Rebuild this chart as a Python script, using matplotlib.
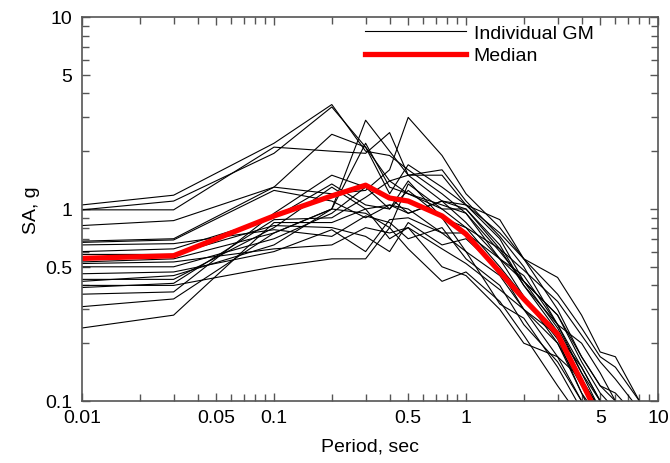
import matplotlib
matplotlib.use("Agg")
import matplotlib.pyplot as plt
from matplotlib.ticker import FixedLocator, FixedFormatter, NullFormatter

plt.rcParams['font.family'] = ['Liberation Sans', 'DejaVu Sans']

# periods (sec)
periods = [0.01, 0.03, 0.1, 0.2, 0.3, 0.4, 0.5, 0.75, 1, 1.5, 2, 3, 4, 5, 6, 8, 10]

# individual ground motion spectra (SA, g)
gm01 = [1.05, 1.18, 2.2, 3.5, 2.0, 1.9, 1.6, 1.2, 0.95, 0.6, 0.42, 0.24, 0.14, 0.09, 0.07, 0.05, 0.04]
gm02 = [0.99, 1.10, 1.95, 3.4, 2.1, 1.4, 1.2, 1.0, 0.8, 0.5, 0.35, 0.2, 0.12, 0.08, 0.06, 0.04, 0.03]
gm03 = [0.99, 0.99, 2.1, 2.0, 1.95, 2.5, 1.5, 1.1, 1.0, 0.62, 0.4, 0.23, 0.13, 0.09, 0.07, 0.05, 0.04]
gm04 = [0.82, 0.87, 1.3, 2.45, 2.1, 1.2, 1.7, 1.3, 1.05, 0.88, 0.55, 0.44, 0.28, 0.18, 0.17, 0.1, 0.07]
gm05 = [0.68, 0.70, 1.3, 1.2, 1.25, 1.6, 3.0, 1.9, 1.2, 0.8, 0.55, 0.3, 0.17, 0.12, 0.11, 0.08, 0.06]
gm06 = [0.67, 0.69, 1.25, 1.1, 0.9, 1.05, 0.95, 1.1, 1.05, 0.7, 0.42, 0.28, 0.16, 0.11, 0.09, 0.06, 0.045]
gm07 = [0.53, 0.55, 0.75, 1.0, 2.9, 2.0, 1.5, 1.6, 1.1, 0.72, 0.5, 0.25, 0.15, 0.1, 0.08, 0.05, 0.04]
gm08 = [0.50, 0.50, 0.7, 0.95, 1.3, 1.0, 1.4, 0.9, 0.6, 0.45, 0.3, 0.2, 0.11, 0.08, 0.06, 0.04, 0.03]
gm09 = [0.43, 0.43, 0.8, 1.3, 1.0, 0.7, 0.8, 0.5, 0.45, 0.3, 0.2, 0.17, 0.1, 0.07, 0.05, 0.04, 0.03]
gm10 = [0.42, 0.45, 0.65, 1.0, 2.2, 1.3, 1.2, 1.05, 0.95, 0.55, 0.45, 0.25, 0.2, 0.14, 0.1, 0.07, 0.05]
gm11 = [0.40, 0.40, 0.5, 0.55, 0.55, 0.8, 0.62, 0.42, 0.47, 0.33, 0.22, 0.12, 0.08, 0.06, 0.05, 0.04, 0.03]
gm12 = [0.36, 0.37, 0.95, 1.5, 1.3, 1.15, 0.95, 1.1, 0.85, 0.55, 0.35, 0.21, 0.11, 0.07, 0.05, 0.04, 0.03]
gm13 = [0.31, 0.34, 0.75, 1.0, 0.95, 0.8, 1.35, 1.0, 1.0, 0.65, 0.4, 0.25, 0.14, 0.1, 0.08, 0.06, 0.04]
gm14 = [0.24, 0.28, 0.85, 0.85, 1.0, 1.05, 1.0, 0.75, 0.6, 0.32, 0.27, 0.15, 0.09, 0.06, 0.05, 0.04, 0.03]
gm15 = [0.58, 0.58, 0.82, 0.8, 0.72, 0.6, 0.85, 0.65, 0.7, 0.48, 0.3, 0.17, 0.13, 0.09, 0.07, 0.05, 0.04]
gm16 = [0.65, 0.66, 0.78, 0.72, 0.92, 0.85, 0.7, 0.8, 0.55, 0.4, 0.25, 0.16, 0.1, 0.075, 0.06, 0.04, 0.03]
gm17 = [0.46, 0.47, 0.6, 0.78, 0.6, 0.88, 0.9, 0.75, 0.75, 0.55, 0.42, 0.28, 0.17, 0.12, 0.1, 0.07, 0.05]
gm18 = [0.39, 0.41, 0.88, 0.9, 1.15, 1.4, 1.5, 1.5, 1.05, 0.75, 0.55, 0.36, 0.24, 0.17, 0.15, 0.1, 0.07]
gm19 = [0.52, 0.53, 0.62, 0.65, 0.8, 0.75, 0.8, 0.62, 0.52, 0.38, 0.3, 0.22, 0.15, 0.1, 0.08, 0.06, 0.04]
gm20 = [0.60, 0.62, 0.90, 1.35, 1.05, 1.0, 1.25, 0.9, 0.8, 0.62, 0.48, 0.33, 0.22, 0.16, 0.13, 0.09, 0.06]

ground_motions = [gm01, gm02, gm03, gm04, gm05, gm06, gm07, gm08, gm09, gm10,
                  gm11, gm12, gm13, gm14, gm15, gm16, gm17, gm18, gm19, gm20]

# median spectrum
median = [0.553, 0.571, 0.92, 1.17, 1.33, 1.14, 1.10, 0.92, 0.74, 0.47, 0.34, 0.223, 0.126, 0.08, 0.06, 0.04, 0.03]

x_ticks = [0.01, 0.05, 0.1, 0.5, 1, 5, 10]
x_tick_labels = ['0.01', '0.05', '0.1', '0.5', '1', '5', '10']
y_ticks = [0.1, 0.5, 1, 5, 10]
y_tick_labels = ['0.1', '0.5', '1', '5', '10']

fig = plt.figure(figsize=(6.7, 4.64), dpi=100)
ax = fig.add_axes([82 / 670, 1 - 402 / 464, 576 / 670, 384 / 464])

for i, gm in enumerate(ground_motions):
    ax.plot(periods, gm, color='black', linewidth=0.8,
            label='Individual GM' if i == 0 else None)
ax.plot(periods, median, color='#ff0000', linewidth=3.8, label='Median')

ax.set_xscale('log')
ax.set_yscale('log')
ax.set_xlim(0.01, 10)
ax.set_ylim(0.1, 10)

# ticks: labelled ones and the rest of the log grid
minor_x = [m * 10.0 ** e for e in range(-2, 1) for m in range(2, 10) if m != 5]
minor_y = [m * 10.0 ** e for e in range(-1, 1) for m in range(2, 10) if m != 5]
ax.xaxis.set_major_locator(FixedLocator(x_ticks))
ax.xaxis.set_major_formatter(FixedFormatter(x_tick_labels))
ax.xaxis.set_minor_locator(FixedLocator(minor_x))
ax.xaxis.set_minor_formatter(NullFormatter())
ax.yaxis.set_major_locator(FixedLocator(y_ticks))
ax.yaxis.set_major_formatter(FixedFormatter(y_tick_labels))
ax.yaxis.set_minor_locator(FixedLocator(minor_y))
ax.yaxis.set_minor_formatter(NullFormatter())

ax.tick_params(which='both', direction='in', top=True, right=True,
               color='#555555', width=1)
ax.tick_params(which='major', length=6, labelsize=14)
ax.tick_params(which='minor', length=5)
ax.tick_params(axis='x', which='major', pad=6)
ax.tick_params(axis='y', which='major', pad=7)
for s in ax.spines.values():
    s.set_color('#555555')
    s.set_linewidth(1.2)

ax.set_xlabel('Period, sec', fontsize=14, labelpad=8)
ax.set_ylabel('SA, g', fontsize=14, labelpad=4)

ax.legend(loc='upper left', bbox_to_anchor=(0.491, 0.982), frameon=False,
          fontsize=14, handlelength=5.2, handletextpad=0.4, labelspacing=0.27,
          borderpad=0, borderaxespad=0)

fig.savefig('out.png', dpi=100)
